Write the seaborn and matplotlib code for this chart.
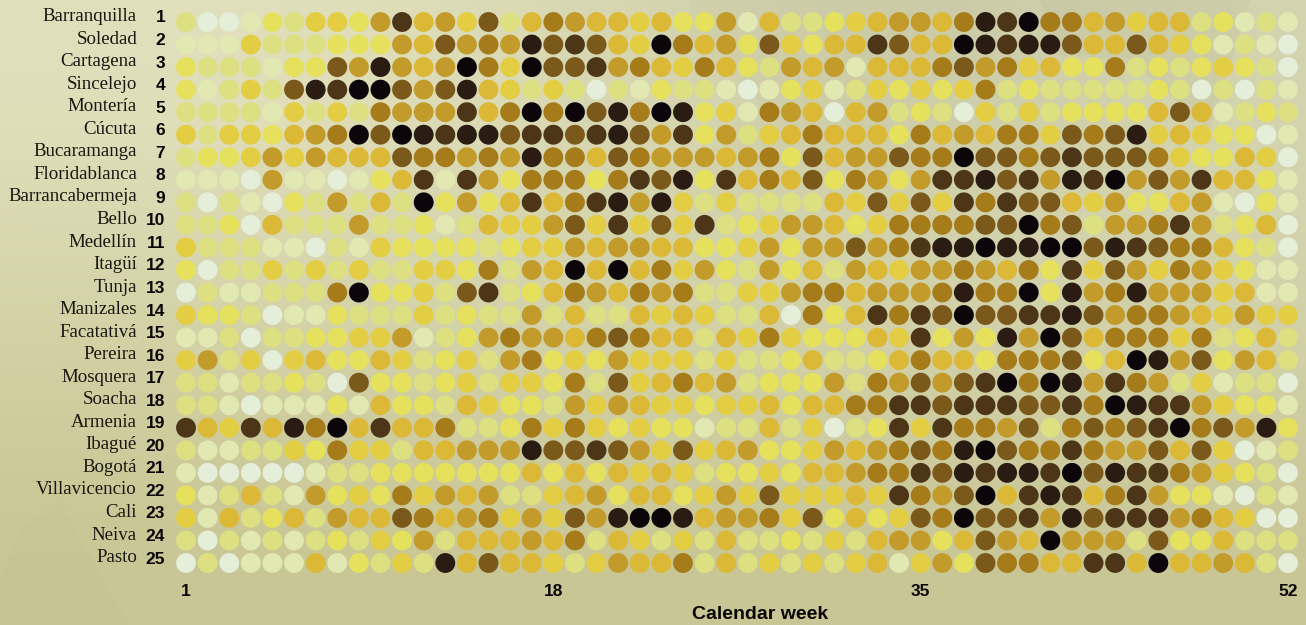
import numpy as np
import pandas as pd
import matplotlib
matplotlib.use('Agg')
import matplotlib.pyplot as plt
from matplotlib.patches import Polygon
from matplotlib.transforms import ScaledTranslation
import seaborn as sns

cities = ['Barranquilla', 'Soledad', 'Cartagena', 'Sincelejo', 'Montería', 'Cúcuta', 'Bucaramanga',
          'Floridablanca', 'Barrancabermeja', 'Bello', 'Medellín', 'Itagüí', 'Tunja', 'Manizales',
          'Facatativá', 'Pereira', 'Mosquera', 'Soacha', 'Armenia', 'Ibagué', 'Bogotá', 'Villavicencio',
          'Cali', 'Neiva', 'Pasto']

# intensity level per week (0 palest ... 11 black)
barranquilla = [2,0,0,1,3,2,4,4,3,6,9,5, 6,4,8,2,5,7,6,5,5,4,5,3,3,6,1,5,2,2,3,4, 5,6,6,5,7,10,9,11,7,7,5,6,4,5,5,2,3,1,2,1]
soledad = [1,1,1,4,2,2,2,3,3,3,6,5, 8,6,7,6,10,8,9,8,5,4,11,7,5,6,3,8,4,3,5,5, 9,8,5,5,11,10,9,10,10,8,5,5,8,5,4,3,1,2,1,0]
cartagena = [3,2,2,2,1,3,3,8,6,10,6,5, 6,11,7,4,11,8,8,9,6,7,5,4,7,5,3,2,6,5,6,1, 5,5,5,7,8,6,7,4,5,3,3,7,2,3,2,3,4,3,2,0]
sincelejo = [3,1,2,4,2,8,10,9,11,11,8,6, 8,10,5,4,2,4,2,0,2,1,3,2,2,1,0,1,3,4,1,2, 4,3,4,3,4,7,2,3,2,2,2,2,2,3,2,0,2,0,2,1]
monteria = [2,2,2,2,1,4,2,4,2,7,6,6, 6,9,5,7,11,7,11,8,10,7,11,10,3,4,1,7,6,5,0,5, 6,2,3,2,0,4,2,4,2,3,3,3,3,5,8,5,1,2,3,2]
cucuta = [4,2,4,4,3,5,6,7,11,8,11,10, 9,10,10,8,9,9,8,9,10,8,6,9,3,6,2,4,5,7,5,5, 5,3,7,5,6,5,7,7,4,8,7,8,10,4,5,4,3,3,0,1]
bucaramanga = [2,3,3,4,6,4,6,5,5,5,8,7, 7,6,7,6,10,7,7,5,8,7,6,6,6,5,6,7,3,8,5,6, 6,8,7,7,11,8,8,7,8,9,8,8,8,7,4,3,3,5,4,0]
floridablanca = [1,1,1,0,6,1,1,0,1,3,5,9, 1,9,6,3,7,7,7,3,7,9,8,10,3,9,5,7,5,8,3,7, 6,3,6,9,9,10,8,9,6,10,9,11,6,8,6,9,5,5,3,1]
barrancabermeja = [2,0,2,1,0,3,2,6,2,5,2,11, 3,6,3,5,9,5,7,9,10,6,10,4,2,4,2,2,2,2,5,4, 8,4,8,4,9,7,9,8,8,5,4,6,3,3,5,6,1,0,3,1]
bello = [2,2,3,0,5,2,2,2,6,2,2,3, 1,2,5,4,4,6,8,4,9,4,8,4,9,2,3,4,6,6,5,3, 4,7,7,7,7,8,8,11,7,8,2,6,6,7,9,6,2,3,5,0]
medellin = [4,2,2,2,1,1,0,2,1,4,3,3, 3,3,2,3,4,4,6,5,6,6,5,5,3,3,4,6,3,6,6,8, 6,7,9,10,10,11,10,10,11,11,8,10,9,8,7,7,5,3,2,0]
itagui = [3,0,2,2,4,2,4,2,4,2,2,4, 4,3,7,2,6,5,11,5,11,5,7,4,6,3,2,6,3,5,2,6, 5,4,6,6,7,6,5,7,3,9,4,8,6,4,7,6,4,3,1,1]
tunja = [0,2,1,1,2,2,2,7,11,3,3,4, 2,8,9,2,3,5,7,6,5,7,6,7,2,2,4,4,6,7,7,5, 6,6,6,7,10,7,7,11,3,10,6,7,10,6,6,6,4,5,1,1]
manizales = [4,3,3,2,0,1,1,3,2,2,2,4, 2,3,2,2,6,2,5,2,2,5,4,5,4,2,2,5,0,7,3,5, 9,7,9,8,11,8,8,9,9,10,8,6,7,7,6,5,4,6,4,4]
facatativa = [1,1,2,0,2,2,3,3,4,4,6,1, 2,3,6,7,6,6,5,7,8,7,5,5,2,5,4,7,4,3,3,3, 5,4,9,3,6,3,10,6,11,8,5,7,7,7,4,7,2,3,5,2]
pereira = [4,6,2,4,0,4,5,3,3,5,4,2, 3,4,2,6,7,3,4,3,6,4,4,4,2,4,2,2,3,5,2,2, 3,5,7,5,5,3,7,7,7,8,3,5,11,10,6,8,3,6,5,2]
mosquera = [2,2,1,2,2,3,2,0,8,3,3,2, 3,4,2,4,4,3,7,2,8,4,5,7,5,6,2,3,3,3,6,2, 7,6,8,6,8,9,11,7,11,10,6,9,7,6,2,4,1,2,2,0]
soacha = [2,2,1,0,1,1,1,3,1,5,3,3, 2,5,4,3,3,2,6,4,6,5,4,4,3,4,4,5,3,5,5,7, 7,9,9,8,9,9,9,8,8,9,7,11,10,9,9,6,4,3,3,1]
armenia = [9,5,4,9,5,10,7,11,5,9,5,5, 7,2,2,3,7,4,7,4,3,4,3,3,1,2,2,5,2,4,0,2, 3,9,4,9,7,7,6,8,2,7,8,7,8,9,11,7,8,6,10,3]
ibague = [2,1,1,2,2,4,3,7,4,4,2,5, 5,6,6,6,10,8,8,9,8,6,4,8,4,5,6,3,3,4,6,5, 6,7,8,7,10,11,8,7,7,9,7,6,6,8,5,8,4,0,1,2]
bogota = [1,0,0,0,0,0,1,2,2,3,3,3, 3,3,3,3,5,3,5,3,5,4,5,4,2,3,3,4,3,5,5,6, 7,7,9,8,10,9,10,10,9,11,8,10,9,9,7,6,4,3,2,0]
villavicencio = [3,1,2,5,2,1,6,3,4,3,7,4, 6,5,6,2,2,4,5,6,3,5,5,3,4,6,4,8,4,4,4,5, 4,9,7,6,8,11,5,9,10,9,5,7,9,6,3,3,1,0,2,1]
cali = [4,1,5,2,3,5,2,6,5,5,8,7, 5,6,7,4,6,4,8,6,10,11,11,10,5,6,6,7,4,8,3,5, 3,4,8,7,11,8,8,9,6,10,8,9,9,9,6,7,5,4,0,0]
neiva = [2,0,2,1,2,1,2,3,2,4,3,6, 2,5,5,5,6,5,7,2,5,4,2,4,2,5,2,2,3,2,4,2, 5,6,6,3,5,8,6,5,11,6,6,6,2,8,3,3,5,2,2,2]
pasto = [0,2,0,1,1,1,5,1,3,2,4,2, 10,5,8,5,5,4,2,4,6,5,5,7,2,5,2,4,2,4,2,4, 5,1,4,6,3,8,7,7,5,5,9,9,5,11,5,5,6,5,2,0]

rows = [barranquilla, soledad, cartagena, sincelejo, monteria, cucuta, bucaramanga, floridablanca,
        barrancabermeja, bello, medellin, itagui, tunja, manizales, facatativa, pereira, mosquera, soacha,
        armenia, ibague, bogota, villavicencio, cali, neiva, pasto]

level_colors = ['#e4eed9', '#e2e8b2', '#dce080', '#e6e15c', '#e3cd43', '#dcb837',
                '#c39b2b', '#a67c1a', '#7b591a', '#4d3618', '#2a1c12', '#0c060a']
week_ticks = [1, 18, 35, 52]

records = []
for rank, values in enumerate(rows, start=1):
    for week, level in enumerate(values, start=1):
        records.append((rank, week, level))
df = pd.DataFrame(records, columns=['rank', 'week', 'level'])

W, H = 1306, 625
fig = plt.figure(figsize=(W / 100, H / 100), dpi=100)

# paper background, a soft wash with a few faint shapes
bg = fig.add_axes([0, 0, 1, 1], zorder=0)
wash = np.array([
    [[226, 224, 188], [224, 223, 186], [210, 209, 172], [200, 199, 163], [212, 212, 176]],
    [[218, 216, 176], [216, 216, 178], [212, 212, 172], [211, 211, 174], [212, 212, 174]],
    [[208, 205, 158], [208, 207, 164], [208, 207, 166], [208, 207, 166], [208, 207, 164]],
    [[201, 198, 149], [201, 198, 149], [201, 198, 149], [201, 198, 149], [201, 198, 149]],
]) / 255
bg.imshow(wash, extent=[0, W, H, 0], aspect='auto', interpolation='bicubic')
bg.add_patch(Polygon([[0, 0], [690, 0], [690, 40], [760, 100], [700, 160], [0, 160]], closed=True,
                     color='#e4e3c0', alpha=0.2, lw=0))
bg.add_patch(Polygon([[1040, 0], [1250, 0], [1210, 130], [1130, 60], [1060, 55]], closed=True,
                     color='#bdbd98', alpha=0.25, lw=0))
bg.add_patch(Polygon([[0, 580], [0, 625], [130, 625], [100, 575], [60, 500], [20, 530]], closed=True,
                     color='#bdbc8c', alpha=0.12, lw=0))
bg.set_xlim(0, W)
bg.set_ylim(H, 0)
bg.axis('off')

ax = fig.add_axes([186 / W, 1 - 563 / H, (1288 - 186) / W, (563 - 22) / H], zorder=1)
ax.patch.set_alpha(0)

sns.scatterplot(data=df, x='week', y='rank', hue='level', palette=dict(enumerate(level_colors)),
                s=205, linewidth=0, legend=False, clip_on=False, ax=ax)

ax.set_xlim(1, 52)
ax.set_ylim(25, 1)
sns.despine(ax=ax, left=True, bottom=True)

ax.set_xticks(week_ticks)
ax.set_xticklabels(week_ticks, family='Liberation Sans', fontweight='bold', fontsize=12.5, color='#0a0608')
ax.tick_params(axis='x', length=0, pad=15)
ax.set_yticks(range(1, 26))
ax.set_yticklabels(range(1, 26), family='Liberation Sans', fontweight='bold', fontsize=12.5, color='#0a0608')
ax.tick_params(axis='y', length=0, pad=15)
# rank numbers sit a little above the dots
shift = ScaledTranslation(0, 5.5 / 100, fig.dpi_scale_trans)
for label in ax.get_yticklabels():
    label.set_transform(label.get_transform() + shift)
ax.set_xlabel('Calendar week', family='Liberation Sans', fontweight='bold', fontsize=14, color='#0a0608',
              x=(760 - 186) / (1288 - 186), labelpad=5)
ax.set_ylabel('')

trans = ax.get_yaxis_transform()
for rank, city in enumerate(cities, start=1):
    ax.text((137 - 186) / (1288 - 186), rank - 0.24, city, transform=trans, ha='right', va='center',
            family='Liberation Serif', fontsize=13.6, color='#1a1612')

fig.savefig('out.png', dpi=100)
